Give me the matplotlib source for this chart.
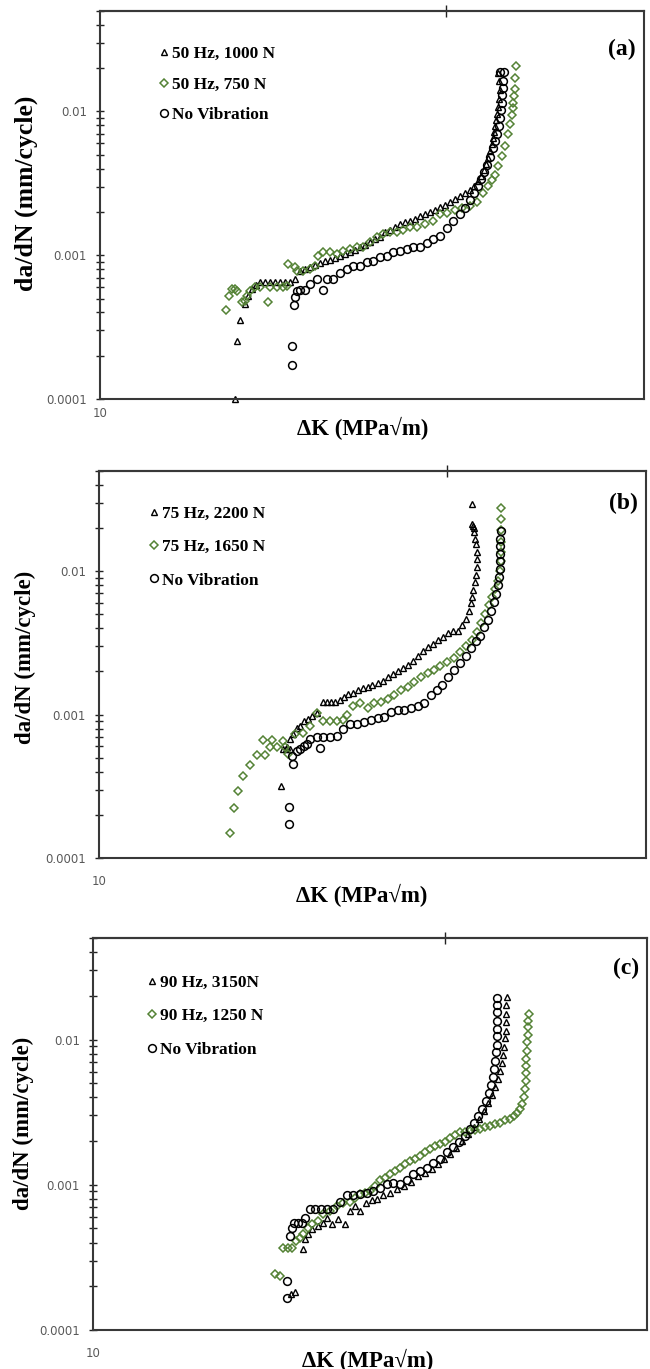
import matplotlib
matplotlib.use('Agg')
import matplotlib.pyplot as plt
from matplotlib.ticker import FixedLocator, FixedFormatter, NullLocator, NullFormatter, LogLocator
from matplotlib.lines import Line2D
from matplotlib.font_manager import FontProperties

# ---------------- data: panel (a) 50 Hz ----------------
a_labels = ["50 Hz, 1000 N", "50 Hz, 750 N", "No Vibration"]
a_tri_dk = [17.71, 17.86, 18.09, 18.48, 18.71, 19.03, 19.35, 19.68, 20.11, 20.54,
            20.98, 21.42, 21.88, 22.35, 22.83, 23.31, 23.81, 24.32, 24.84, 25.37,
            25.91, 26.47, 27.04, 27.62, 28.21, 28.81, 29.43, 30.06, 30.70, 31.36,
            32.03, 32.72, 33.42, 34.13, 34.86, 35.61, 36.37, 37.15, 37.94, 38.75,
            39.58, 40.43, 41.29, 42.17, 43.08, 44.00, 44.94, 45.90, 46.88, 47.88,
            48.70, 49.53, 50.16, 50.80, 51.23, 51.67, 52.11, 52.55, 52.78, 53.00,
            53.23, 53.45, 53.68, 53.91, 54.13, 54.36, 54.13, 53.91]
a_tri_rate = [0.000100, 0.000255, 0.000356, 0.000459, 0.000521, 0.000583, 0.000621, 0.000651, 0.000651, 0.000651,
              0.000651, 0.000651, 0.000651, 0.000651, 0.000683, 0.000782, 0.000807, 0.000832, 0.000857, 0.000884,
              0.000910, 0.000924, 0.000954, 0.000984, 0.00102, 0.00105, 0.00108, 0.00114, 0.00117, 0.00123,
              0.00129, 0.00135, 0.00144, 0.00151, 0.00156, 0.00164, 0.00169, 0.00174, 0.00180, 0.00186,
              0.00195, 0.00201, 0.00208, 0.00218, 0.00225, 0.00236, 0.00247, 0.00259, 0.00272, 0.00285,
              0.00304, 0.00329, 0.00356, 0.00392, 0.00431, 0.00474, 0.00530, 0.00592, 0.00651, 0.00717,
              0.00788, 0.00867, 0.00954, 0.0108, 0.0123, 0.0140, 0.0164, 0.0186]
a_dia_dk = [17.04, 17.26, 17.48, 17.71, 17.86, 18.24, 18.48, 18.63, 18.87, 19.27,
            19.68, 20.36, 20.54, 21.16, 21.70, 22.07, 22.16, 22.83, 23.02, 23.61,
            24.32, 24.84, 25.16, 25.70, 26.47, 27.27, 27.97, 28.81, 29.68, 30.45,
            31.36, 32.31, 33.13, 34.13, 35.16, 36.06, 37.15, 38.25, 39.58, 40.95,
            42.17, 43.45, 44.94, 46.28, 47.88, 49.32, 50.58, 51.67, 52.55, 53.23,
            53.91, 54.83, 55.53, 56.23, 56.72, 57.20, 57.42, 57.42, 57.68, 57.93,
            57.93, 58.17]
a_dia_rate = [0.000418, 0.000521, 0.000583, 0.000583, 0.000565, 0.000474, 0.000482, 0.000521, 0.000565, 0.000602,
              0.000602, 0.000474, 0.000602, 0.000602, 0.000602, 0.000611, 0.000870, 0.000832, 0.000782, 0.000782,
              0.000807, 0.000844, 0.000984, 0.00105, 0.00105, 0.00102, 0.00107, 0.00110, 0.00114, 0.00115,
              0.00123, 0.00135, 0.00140, 0.00144, 0.00146, 0.00151, 0.00156, 0.00158, 0.00166, 0.00172,
              0.00195, 0.00198, 0.00208, 0.00214, 0.00221, 0.00236, 0.00272, 0.00304, 0.00334, 0.00362,
              0.00418, 0.00489, 0.00574, 0.00694, 0.00814, 0.00938, 0.0105, 0.0115, 0.0129, 0.0144,
              0.0172, 0.0208]
a_circ_dk = [22.54, 22.54, 22.73, 22.83, 23.02, 23.31, 23.81, 24.32, 25.05, 25.70,
             26.14, 26.81, 27.62, 28.45, 29.18, 30.06, 30.97, 31.76, 32.72, 33.71,
             34.57, 35.61, 36.68, 37.61, 38.75, 39.92, 40.95, 42.17, 43.45, 44.56,
             45.90, 46.88, 47.88, 48.70, 49.53, 50.16, 50.80, 51.45, 52.11, 52.78,
             53.23, 53.68, 54.13, 54.36, 54.60, 54.83, 54.83, 55.06, 55.06, 55.30,
             54.36]
a_circ_rate = [0.000172, 0.000232, 0.000452, 0.000513, 0.000565, 0.000574, 0.000574, 0.000630, 0.000683, 0.000574,
               0.000683, 0.000683, 0.000747, 0.000807, 0.000844, 0.000844, 0.000897, 0.000910, 0.000969, 0.000984,
               0.00105, 0.00107, 0.00110, 0.00114, 0.00115, 0.00121, 0.00129, 0.00137, 0.00154, 0.00172,
               0.00195, 0.00214, 0.00243, 0.00272, 0.00304, 0.00340, 0.00380, 0.00424, 0.00482, 0.00556,
               0.00621, 0.00694, 0.00788, 0.00895, 0.0102, 0.0115, 0.0131, 0.0146, 0.0164, 0.0189,
               0.0189]

# ---------------- data: panel (b) 75 Hz ----------------
b_labels = ["75 Hz, 2200 N", "75 Hz, 1650 N", "No Vibration"]
b_tri_dk = [21.51, 21.70, 22.07, 22.35, 22.64, 23.02, 23.31, 23.71, 24.12, 24.53,
            25.05, 25.70, 26.14, 26.59, 27.04, 27.62, 28.09, 28.57, 29.18, 29.81,
            30.32, 30.97, 31.62, 32.31, 33.00, 33.71, 34.42, 35.16, 35.91, 36.68,
            37.46, 38.25, 39.07, 39.92, 40.77, 41.65, 42.54, 43.45, 44.38, 45.33,
            46.08, 46.88, 47.48, 47.88, 48.08, 48.29, 48.70, 48.91, 49.12, 49.12,
            49.12, 48.91, 48.70, 48.49, 48.29, 48.08, 48.49, 48.08, 21.97, 22.35]
b_tri_rate = [0.000317, 0.000574, 0.000592, 0.000672, 0.000728, 0.000813, 0.000832, 0.000897, 0.000938, 0.000984,
              0.00103, 0.00123, 0.00123, 0.00123, 0.00123, 0.00127, 0.00133, 0.00140, 0.00142, 0.00149,
              0.00154, 0.00156, 0.00161, 0.00166, 0.00172, 0.00183, 0.00192, 0.00201, 0.00211, 0.00221,
              0.00236, 0.00255, 0.00276, 0.00295, 0.00309, 0.00329, 0.00350, 0.00368, 0.00380, 0.00386,
              0.00424, 0.00466, 0.00530, 0.00602, 0.00662, 0.00740, 0.00840, 0.00938, 0.0107, 0.0121,
              0.0137, 0.0154, 0.0169, 0.0189, 0.0208, 0.0214, 0.0200, 0.0294, 0.000574, 0.000574]
b_dia_dk = [17.34, 17.63, 17.93, 18.32, 18.87, 19.44, 20.11, 19.93, 20.72, 20.54,
            21.16, 21.70, 21.88, 22.16, 22.83, 23.61, 24.32, 25.05, 25.70, 26.47,
            27.27, 27.97, 28.45, 29.18, 30.06, 30.97, 31.76, 32.72, 33.71, 34.57,
            35.61, 36.68, 37.61, 38.75, 39.92, 40.95, 42.00, 43.26, 44.56, 45.71,
            46.88, 48.08, 49.12, 49.95, 50.80, 51.67, 52.33, 53.00, 53.68, 54.13,
            54.36, 54.36, 54.36, 54.36, 54.36, 54.36]
b_dia_rate = [0.000149, 0.000225, 0.000294, 0.000374, 0.000445, 0.000521, 0.000521, 0.000662, 0.000662, 0.000592,
              0.000592, 0.000651, 0.000592, 0.000530, 0.000728, 0.000747, 0.000832, 0.00103, 0.000897, 0.000897,
              0.000897, 0.000924, 0.00100, 0.00114, 0.00121, 0.00112, 0.00121, 0.00123, 0.00129, 0.00137,
              0.00149, 0.00156, 0.00169, 0.00183, 0.00195, 0.00205, 0.00218, 0.00232, 0.00247, 0.00272,
              0.00299, 0.00329, 0.00374, 0.00438, 0.00505, 0.00583, 0.00662, 0.00751, 0.00853, 0.0100,
              0.0117, 0.0137, 0.0161, 0.0195, 0.0232, 0.0276]
b_circ_dk = [22.26, 22.26, 22.64, 22.54, 23.02, 23.31, 23.71, 24.01, 24.32, 25.37,
             25.05, 25.70, 26.47, 27.27, 27.97, 28.81, 29.68, 30.45, 31.36, 32.31,
             33.13, 34.13, 35.16, 36.06, 37.15, 38.25, 39.25, 40.43, 41.47, 42.36,
             43.45, 44.56, 45.71, 46.88, 47.88, 48.91, 49.74, 50.58, 51.45, 52.11,
             52.78, 53.23, 53.68, 53.91, 54.13, 54.13, 54.13, 54.13, 54.13, 54.36]
b_circ_rate = [0.000172, 0.000228, 0.000452, 0.000513, 0.000556, 0.000574, 0.000602, 0.000621, 0.000672, 0.000583,
               0.000697, 0.000697, 0.000697, 0.000713, 0.000794, 0.000857, 0.000857, 0.000884, 0.000924, 0.000954,
               0.000969, 0.00105, 0.00108, 0.00108, 0.00112, 0.00114, 0.00121, 0.00137, 0.00149, 0.00161,
               0.00183, 0.00205, 0.00229, 0.00255, 0.00290, 0.00324, 0.00356, 0.00411, 0.00459, 0.00530,
               0.00611, 0.00694, 0.00801, 0.00909, 0.0103, 0.0117, 0.0131, 0.0149, 0.0169, 0.0192]

# ---------------- data: panel (c) 90 Hz ----------------
c_labels = ["90 Hz, 3150N", "90 Hz, 1250 N", "No Vibration"]
c_tri_dk = [22.78, 23.15, 23.93, 24.14, 24.43, 24.85, 25.48, 26.03, 26.45, 27.01,
            27.69, 28.51, 29.11, 29.72, 30.34, 31.11, 31.89, 32.56, 33.38, 34.37,
            35.38, 36.43, 37.51, 38.63, 39.75, 40.93, 41.97, 43.02, 44.11, 45.22,
            46.37, 47.53, 48.72, 49.77, 50.82, 51.64, 52.52, 53.19, 53.85, 54.29,
            54.73, 54.96, 55.20, 55.43, 55.67, 55.67, 55.67, 55.67, 55.89]
c_tri_rate = [0.000177, 0.000183, 0.000362, 0.000424, 0.000459, 0.000497, 0.000521, 0.000547, 0.000592, 0.000539,
              0.000583, 0.000539, 0.000662, 0.000713, 0.000662, 0.000747, 0.000782, 0.000794, 0.000844, 0.000884,
              0.000938, 0.000984, 0.00105, 0.00114, 0.00121, 0.00129, 0.00140, 0.00151, 0.00164, 0.00180,
              0.00201, 0.00225, 0.00251, 0.00285, 0.00324, 0.00368, 0.00418, 0.00474, 0.00538, 0.00611,
              0.00694, 0.00788, 0.00895, 0.0102, 0.0115, 0.0131, 0.0151, 0.0172, 0.0195]
c_dia_dk = [21.30, 21.75, 22.03, 22.49, 22.87, 23.25, 23.64, 23.93, 24.43, 24.85,
            25.48, 26.03, 26.78, 27.57, 28.27, 29.11, 29.72, 30.34, 30.97, 31.62,
            32.28, 32.96, 33.65, 34.37, 35.09, 35.83, 36.58, 37.35, 38.13, 38.93,
            39.75, 40.58, 41.43, 42.31, 43.19, 44.11, 45.03, 45.97, 46.93, 47.92,
            48.92, 49.95, 50.99, 52.08, 53.19, 54.29, 55.43, 56.60, 57.54, 58.27,
            58.99, 59.50, 59.98, 60.23, 60.48, 60.48, 60.48, 60.48, 60.74, 60.74,
            60.99, 60.99, 60.99, 61.24]
c_dia_rate = [0.000243, 0.000237, 0.000368, 0.000368, 0.000368, 0.000411, 0.000430, 0.000459, 0.000505, 0.000539,
              0.000565, 0.000630, 0.000662, 0.000716, 0.000747, 0.000758, 0.000813, 0.000870, 0.000884, 0.000910,
              0.000984, 0.00107, 0.00112, 0.00119, 0.00125, 0.00131, 0.00140, 0.00146, 0.00151, 0.00158,
              0.00169, 0.00177, 0.00186, 0.00192, 0.00198, 0.00211, 0.00221, 0.00229, 0.00232, 0.00236,
              0.00240, 0.00243, 0.00251, 0.00255, 0.00264, 0.00268, 0.00277, 0.00285, 0.00299, 0.00314,
              0.00334, 0.00362, 0.00405, 0.00459, 0.00522, 0.00592, 0.00662, 0.00740, 0.00840, 0.00954,
              0.0108, 0.0121, 0.0135, 0.0149]
c_circ_dk = [22.40, 22.40, 22.69, 22.87, 23.06, 23.44, 23.84, 24.14, 24.64, 25.16,
             25.80, 26.45, 27.12, 27.93, 28.74, 29.47, 30.34, 31.25, 32.03, 32.96,
             33.93, 34.80, 35.83, 36.88, 37.80, 38.93, 40.09, 41.11, 42.31, 43.55,
             44.65, 45.78, 46.93, 47.92, 48.72, 49.55, 50.38, 51.23, 51.88, 52.30,
             52.75, 52.97, 53.19, 53.40, 53.62, 53.62, 53.62, 53.62, 53.62, 53.62,
             53.62]
c_circ_rate = [0.000166, 0.000218, 0.000445, 0.000505, 0.000547, 0.000547, 0.000547, 0.000592, 0.000683, 0.000683,
               0.000683, 0.000683, 0.000683, 0.000758, 0.000844, 0.000844, 0.000870, 0.000884, 0.000910, 0.000954,
               0.00102, 0.00103, 0.00102, 0.00107, 0.00119, 0.00125, 0.00131, 0.00142, 0.00151, 0.00169,
               0.00183, 0.00198, 0.00218, 0.00243, 0.00268, 0.00299, 0.00334, 0.00380, 0.00431, 0.00489,
               0.00556, 0.00631, 0.00717, 0.00814, 0.00924, 0.0105, 0.0119, 0.0135, 0.0154, 0.0172,
               0.0192]

# ---------------- axis settings ----------------
x_limits = (10, 100)
y_limits = (1e-4, 0.05)
y_major = [1e-4, 1e-3, 1e-2]
y_major_labels = ["0.0001", "0.001", "0.01"]
x_tick_labels = ["10"]
top_tick = [43.2]
x_title = "ΔK (MPa√m)"
y_title = "da/dN (mm/cycle)"

SERIF = ['Liberation Serif', 'DejaVu Serif']
GREEN = '#548235'
SPINE = '#383838'

plt.rcParams['font.family'] = ['DejaVu Sans']

fig = plt.figure(figsize=(6.5, 13.69), dpi=100)

panels = [
    dict(rect=[100/650, 1-399/1369, 544/650, 388/1369],
         tri=(a_tri_dk, a_tri_rate), dia=(a_dia_dk, a_dia_rate), circ=(a_circ_dk, a_circ_rate),
         labels=a_labels, tag='(a)', tag_xy=(0.985, 0.90),
         ylab_xy=(-0.136, 0.531), ylab_size=18.5, xlab_xy=(0.482, -0.075), x10_pad=6,
         leg_xy=(0.109, 0.9095), leg_sp=0.83),
    dict(rect=[99/650, 1-858/1369, 547/650, 387/1369],
         tri=(b_tri_dk, b_tri_rate), dia=(b_dia_dk, b_dia_rate), circ=(b_circ_dk, b_circ_rate),
         labels=b_labels, tag='(b)', tag_xy=(0.985, 0.917),
         ylab_xy=(-0.135, 0.519), ylab_size=16.5, xlab_xy=(0.481, -0.0956), x10_pad=12,
         leg_xy=(0.092, 0.9095), leg_sp=0.98),
    dict(rect=[93/650, 1-1330/1369, 554/650, 392/1369],
         tri=(c_tri_dk, c_tri_rate), dia=(c_dia_dk, c_dia_rate), circ=(c_circ_dk, c_circ_rate),
         labels=c_labels, tag='(c)', tag_xy=(0.985, 0.923),
         ylab_xy=(-0.126, 0.528), ylab_size=16.5, xlab_xy=(0.496, -0.0765), x10_pad=12,
         leg_xy=(0.097, 0.9067), leg_sp=1.0),
]

tri_style = dict(ls='none', marker='^', ms=5.0, mfc='none', mec='black', mew=1.0)
dia_style = dict(ls='none', marker='D', ms=4.3, mfc='none', mec=GREEN, mew=1.1)
circ_style = dict(ls='none', marker='o', ms=5.6, mfc='none', mec='black', mew=1.1)

for p in panels:
    ax = fig.add_axes(p['rect'])
    ax.set_xscale('log')
    ax.set_yscale('log')
    ax.set_xlim(*x_limits)
    ax.set_ylim(*y_limits)

    ax.plot(*p['tri'], clip_on=False, **tri_style)
    ax.plot(*p['dia'], clip_on=False, **dia_style)
    ax.plot(*p['circ'], clip_on=False, **circ_style)

    # x axis: only "10" label, no visible tick
    ax.xaxis.set_major_locator(FixedLocator([x_limits[0]]))
    ax.xaxis.set_major_formatter(FixedFormatter(x_tick_labels))
    ax.xaxis.set_minor_locator(NullLocator())
    ax.tick_params(axis='x', which='major', length=0, pad=p['x10_pad'],
                   labelsize=8.5, labelcolor='#595959')

    # y axis: cross ticks
    ax.yaxis.set_major_locator(FixedLocator(y_major))
    ax.yaxis.set_major_formatter(FixedFormatter(y_major_labels))
    ax.yaxis.set_minor_locator(LogLocator(base=10, subs=[2, 3, 4, 5, 6, 7, 8, 9], numticks=20))
    ax.yaxis.set_minor_formatter(NullFormatter())
    ax.tick_params(axis='y', which='both', direction='inout', length=6, width=1.0,
                   color='#222222', labelsize=8.5, labelcolor='#595959', pad=6.5)

    for s in ax.spines.values():
        s.set_linewidth(1.5)
        s.set_color(SPINE)

    sec = ax.secondary_xaxis('top')
    sec.xaxis.set_major_locator(FixedLocator(top_tick))
    sec.xaxis.set_major_formatter(NullFormatter())
    sec.xaxis.set_minor_locator(NullLocator())
    sec.tick_params(axis='x', direction='inout', length=8, width=1.0, color='#222222')
    sec.spines['top'].set_linewidth(1.5)
    sec.spines['top'].set_color(SPINE)

    # legend
    handles = [Line2D([], [], **tri_style), Line2D([], [], **dia_style), Line2D([], [], **circ_style)]
    ax.legend(handles, p['labels'], loc='upper left', bbox_to_anchor=p['leg_xy'],
              frameon=False, prop=FontProperties(family=SERIF, weight='bold', size=12.5),
              handlelength=0.55, handletextpad=0.2, labelspacing=p['leg_sp'],
              borderpad=0, borderaxespad=0)

    ax.text(*p['tag_xy'], p['tag'], transform=ax.transAxes, ha='right', va='center',
            fontsize=17, fontweight='bold', family=SERIF)
    ax.text(*p['xlab_xy'], x_title, transform=ax.transAxes, ha='center', va='center',
            fontsize=16.5, fontweight='bold', family=SERIF)
    ax.text(*p['ylab_xy'], y_title, transform=ax.transAxes, ha='center', va='center',
            rotation=90, fontsize=p['ylab_size'], fontweight='bold', family=SERIF)

fig.savefig('out.png', dpi=100)
